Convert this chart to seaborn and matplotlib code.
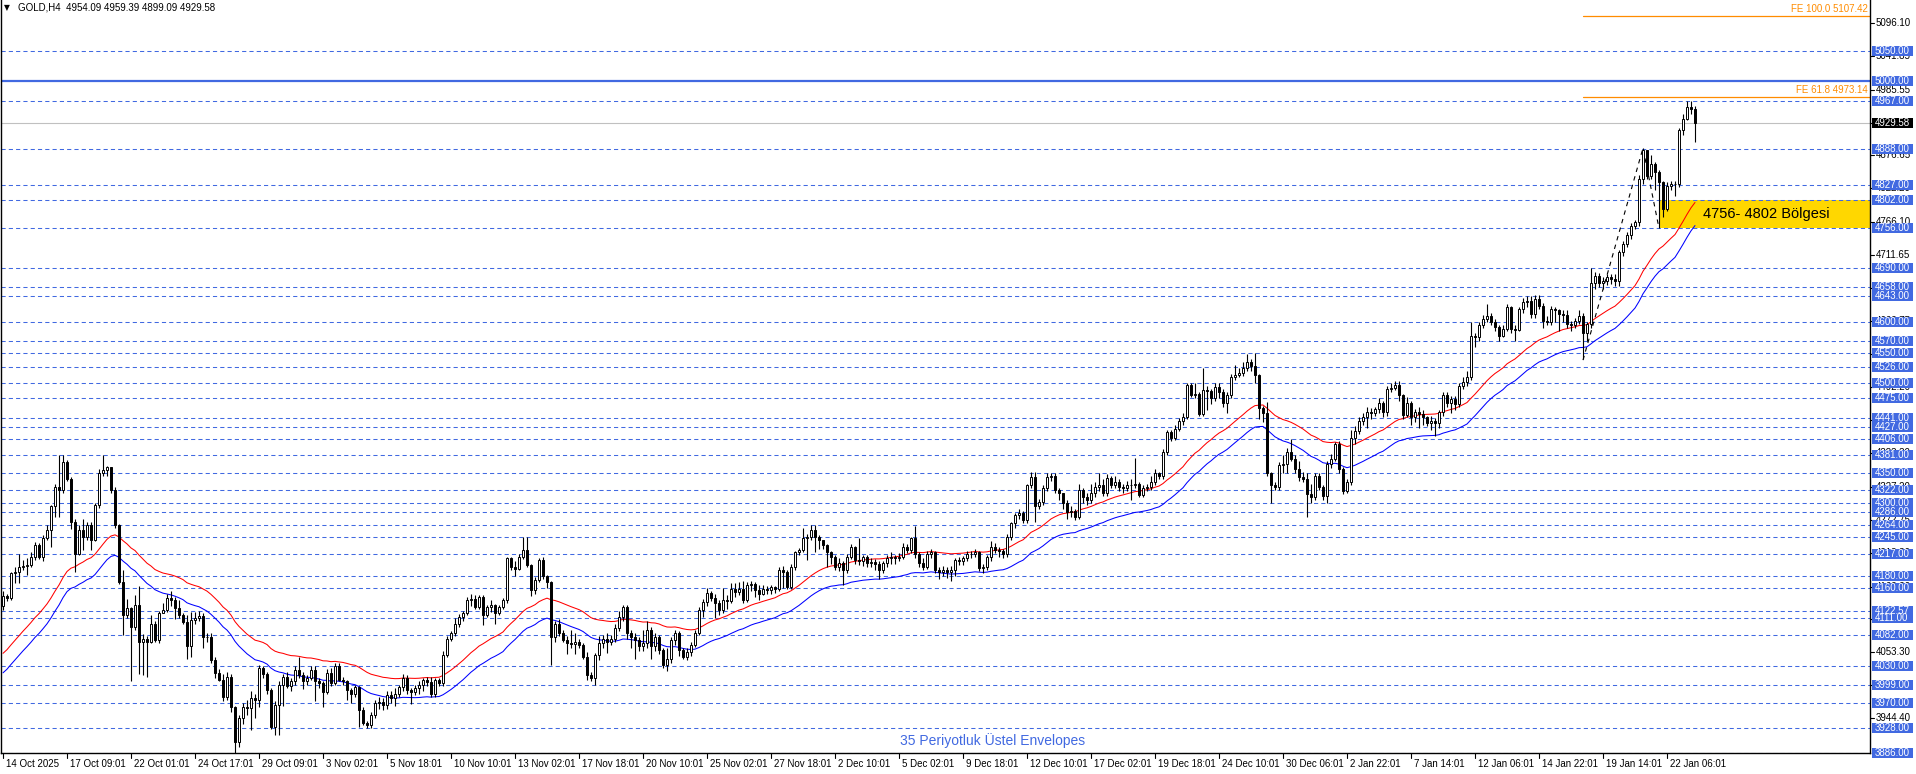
import numpy as np
import pandas as pd
import matplotlib
matplotlib.use("Agg")
import matplotlib.pyplot as plt
import matplotlib.transforms as mtransforms
from matplotlib.patches import Rectangle
from matplotlib.lines import Line2D
import seaborn as sns

# ---------------- data (GOLD, H4) ----------------
first_open = 4130.0
closes = [
    4147, 4144, 4184, 4186, 4195, 4197, 4198, 4212, 4231, 4212,
    4242, 4256, 4295, 4328, 4322, 4369, 4341, 4270, 4217, 4256,
    4245, 4264, 4240, 4297, 4350, 4356, 4360, 4322, 4264, 4170,
    4115, 4126, 4096, 4132, 4071, 4076, 4071, 4101, 4074, 4118,
    4123, 4143, 4140, 4126, 4115, 4104, 4063, 4107, 4110, 4114,
    4079, 4078, 4041, 4019, 4008, 3980, 4013, 3963, 3905, 3944,
    3963, 3961, 3977, 3974, 4027, 4018, 3991, 3930, 3966, 3999,
    4013, 3997, 4005, 4024, 4016, 4005, 4010, 4024, 4005, 4003,
    3988, 4019, 4002, 4030, 4007, 4005, 3991, 3985, 3996, 3958,
    3936, 3933, 3949, 3969, 3971, 3966, 3983, 3977, 3985, 3996,
    4010, 3991, 3988, 3994, 3999, 4007, 4004, 3985, 4007, 4002,
    4049, 4076, 4085, 4100, 4112, 4118, 4140, 4142, 4129, 4145,
    4115, 4129, 4132, 4118, 4129, 4140, 4209, 4195, 4192, 4212,
    4223, 4198, 4157, 4173, 4206, 4179, 4170, 4079, 4101, 4085,
    4074, 4068, 4067, 4070, 4065, 4046, 4016, 4010, 4049, 4068,
    4076, 4071, 4076, 4093, 4112, 4129, 4085, 4079, 4074, 4063,
    4068, 4090, 4063, 4079, 4057, 4032, 4043, 4074, 4085, 4057,
    4046, 4054, 4065, 4085, 4123, 4137, 4151, 4143, 4135, 4123,
    4140, 4139, 4159, 4154, 4159, 4140, 4165, 4167, 4157, 4150,
    4159, 4157, 4161, 4158, 4190, 4187, 4162, 4195, 4220, 4223,
    4242, 4245, 4256, 4245, 4239, 4231, 4220, 4212, 4195, 4201,
    4190, 4212, 4228, 4206, 4204, 4212, 4201, 4203, 4200, 4190,
    4201, 4209, 4212, 4209, 4212, 4228, 4223, 4242, 4217, 4201,
    4195, 4217, 4219, 4190, 4187, 4190, 4186, 4190, 4206, 4205,
    4209, 4217, 4216, 4220, 4193, 4195, 4212, 4228, 4223, 4221,
    4217, 4245, 4267, 4281, 4284, 4273, 4330, 4344, 4295, 4303,
    4325, 4344, 4346, 4322, 4317, 4300, 4286, 4287, 4278, 4322,
    4311, 4305, 4317, 4328, 4331, 4317, 4342, 4331, 4336, 4328,
    4325, 4331, 4330, 4333, 4314, 4325, 4328, 4336, 4350, 4345,
    4386, 4419, 4408, 4424, 4436, 4444, 4496, 4480, 4482, 4449,
    4488, 4487, 4474, 4493, 4485, 4466, 4480, 4510, 4513, 4516,
    4524, 4535, 4527, 4513, 4458, 4450, 4350, 4331, 4328, 4364,
    4366, 4386, 4374, 4357, 4343, 4340, 4315, 4310, 4346, 4327,
    4313, 4365, 4374, 4398, 4357, 4321, 4335, 4409, 4420, 4437,
    4443, 4451, 4450, 4456, 4467, 4451, 4490, 4492, 4496, 4479,
    4446, 4467, 4443, 4451, 4449, 4443, 4434, 4437, 4434, 4451,
    4479, 4467, 4473, 4465, 4495, 4501, 4509, 4578, 4576, 4595,
    4606, 4611, 4600, 4592, 4578, 4589, 4625, 4589, 4587, 4622,
    4633, 4636, 4614, 4639, 4628, 4603, 4600, 4622, 4620, 4614,
    4612, 4597, 4596, 4603, 4611, 4583, 4597, 4666, 4677, 4666,
    4669, 4675, 4672, 4669, 4716, 4730, 4744, 4760, 4766, 4838,
    4885, 4843, 4862, 4849, 4832, 4788, 4826, 4829, 4830, 4918,
    4937, 4957, 4954.09, 4929.58,
]
highs = [
    4155, 4150, 4186, 4195, 4217, 4207, 4209, 4220, 4236, 4234,
    4248, 4265, 4297, 4333, 4381, 4381, 4372, 4343, 4274, 4264,
    4275, 4270, 4270, 4300, 4357, 4381, 4362, 4360, 4327, 4266,
    4190, 4141, 4128, 4148, 4163, 4083, 4080, 4115, 4105, 4122,
    4135, 4150, 4155, 4145, 4140, 4118, 4115, 4120, 4120, 4122,
    4118, 4085, 4085, 4045, 4025, 4017, 4020, 4018, 3965, 3950,
    3970, 3975, 3990, 3985, 4032, 4030, 4020, 3995, 3972, 4005,
    4017, 4020, 4010, 4030, 4046, 4020, 4015, 4030, 4030, 4010,
    4005, 4025, 4027, 4035, 4035, 4012, 4008, 3995, 4000, 3998,
    3962, 3940, 3955, 3975, 3980, 3978, 3990, 3990, 3995, 4000,
    4018, 4015, 3995, 4000, 4005, 4010, 4012, 4012, 4010, 4010,
    4055, 4080, 4088, 4110, 4116, 4122, 4145, 4150, 4148, 4148,
    4148, 4132, 4140, 4134, 4132, 4143, 4212, 4212, 4205, 4216,
    4245, 4245, 4200, 4178, 4210, 4211, 4181, 4172, 4106, 4108,
    4090, 4080, 4090, 4085, 4075, 4068, 4054, 4020, 4052, 4080,
    4082, 4085, 4082, 4100, 4122, 4132, 4132, 4090, 4086, 4078,
    4090, 4106, 4095, 4085, 4082, 4060, 4060, 4078, 4090, 4088,
    4060, 4060, 4070, 4090, 4128, 4142, 4160, 4155, 4150, 4140,
    4160, 4148, 4168, 4168, 4170, 4172, 4170, 4172, 4170, 4165,
    4165, 4163, 4165, 4164, 4195, 4197, 4190, 4200, 4222, 4227,
    4260, 4250, 4265, 4265, 4247, 4240, 4232, 4222, 4215, 4210,
    4205, 4216, 4232, 4230, 4242, 4215, 4215, 4210, 4208, 4205,
    4205, 4215, 4220, 4215, 4218, 4235, 4232, 4245, 4262, 4220,
    4210, 4222, 4225, 4222, 4195, 4196, 4194, 4196, 4210, 4212,
    4213, 4222, 4222, 4225, 4222, 4200, 4215, 4237, 4235, 4228,
    4225, 4250, 4270, 4285, 4290, 4288, 4333, 4352, 4352, 4308,
    4330, 4350, 4350, 4350, 4325, 4318, 4305, 4296, 4290, 4333,
    4325, 4318, 4333, 4335, 4350, 4340, 4348, 4345, 4345, 4340,
    4333, 4338, 4340, 4375, 4336, 4330, 4333, 4345, 4357, 4352,
    4390, 4422, 4422, 4430, 4442, 4450, 4500, 4500, 4500, 4485,
    4525, 4495, 4490, 4500, 4500, 4490, 4485, 4515, 4530, 4525,
    4535, 4548, 4540, 4550, 4515, 4462, 4468, 4352, 4335, 4368,
    4380, 4392, 4406, 4380, 4370, 4352, 4350, 4332, 4350, 4350,
    4330, 4370, 4382, 4402, 4403, 4360, 4340, 4422, 4428, 4443,
    4450, 4460, 4458, 4460, 4475, 4470, 4495, 4500, 4503, 4503,
    4481, 4476, 4470, 4457, 4460, 4455, 4445, 4445, 4442, 4455,
    4485, 4484, 4478, 4478, 4500, 4510, 4520, 4600, 4583, 4600,
    4612, 4630, 4615, 4605, 4595, 4595, 4630, 4628, 4595, 4625,
    4640, 4643, 4643, 4645, 4645, 4632, 4610, 4627, 4625, 4623,
    4620, 4620, 4603, 4608, 4620, 4615, 4600, 4690, 4683, 4682,
    4675, 4680, 4680, 4680, 4720, 4735, 4750, 4765, 4770, 4845,
    4889, 4885, 4878, 4865, 4853, 4835, 4832, 4835, 4835, 4922,
    4945, 4967, 4967, 4959.39,
]
lows = [
    4124, 4138, 4140, 4168, 4168, 4190, 4181, 4195, 4207, 4208,
    4205, 4240, 4228, 4278, 4278, 4318, 4338, 4258, 4187, 4215,
    4223, 4240, 4223, 4237, 4292, 4346, 4346, 4318, 4260, 4167,
    4082, 4110, 4005, 4090, 4018, 4016, 4013, 4068, 4070, 4068,
    4118, 4120, 4130, 4108, 4110, 4100, 4043, 4045, 4100, 4105,
    4060, 4070, 4035, 4010, 4005, 3972, 3975, 3955, 3887, 3897,
    3935, 3950, 3925, 3945, 3963, 4010, 3985, 3927, 3917, 3916,
    3965, 3995, 3990, 4000, 4010, 3993, 4000, 4008, 3972, 3995,
    3963, 3985, 3998, 4000, 4005, 4000, 3975, 3970, 3980, 3930,
    3933, 3928, 3928, 3945, 3960, 3958, 3960, 3970, 3965, 3980,
    3990, 3985, 3968, 3982, 3985, 3990, 3998, 3980, 3980, 3998,
    3998, 4045, 4072, 4080, 4095, 4106, 4115, 4130, 4125, 4125,
    4099, 4112, 4120, 4100, 4115, 4125, 4135, 4190, 4180, 4189,
    4208, 4195, 4146, 4150, 4170, 4175, 4160, 4032, 4070, 4080,
    4070, 4050, 4060, 4050, 4060, 4043, 4008, 4005, 4000, 4040,
    4060, 4052, 4065, 4070, 4088, 4105, 4075, 4060, 4042, 4055,
    4055, 4060, 4043, 4055, 4050, 4028, 4022, 4035, 4065, 4048,
    4043, 4040, 4048, 4062, 4082, 4112, 4130, 4138, 4110, 4115,
    4118, 4125, 4135, 4145, 4148, 4135, 4136, 4155, 4145, 4140,
    4148, 4150, 4150, 4152, 4155, 4160, 4158, 4158, 4190, 4215,
    4220, 4206, 4240, 4220, 4225, 4225, 4195, 4200, 4190, 4188,
    4165, 4185, 4208, 4200, 4198, 4197, 4195, 4195, 4190, 4175,
    4185, 4195, 4200, 4200, 4205, 4208, 4218, 4218, 4210, 4195,
    4190, 4192, 4210, 4185, 4175, 4180, 4176, 4172, 4180, 4198,
    4198, 4205, 4210, 4212, 4188, 4185, 4190, 4205, 4218, 4212,
    4210, 4212, 4240, 4260, 4275, 4268, 4268, 4325, 4270, 4290,
    4298, 4320, 4338, 4318, 4305, 4290, 4275, 4278, 4272, 4275,
    4300, 4298, 4300, 4310, 4320, 4312, 4312, 4325, 4325, 4320,
    4318, 4320, 4305, 4325, 4310, 4310, 4320, 4322, 4330, 4340,
    4340, 4380, 4404, 4405, 4420, 4430, 4440, 4476, 4475, 4445,
    4445, 4455, 4465, 4470, 4475, 4460, 4450, 4475, 4505, 4510,
    4512, 4520, 4520, 4500, 4440, 4435, 4345, 4300, 4322, 4322,
    4350, 4350, 4370, 4350, 4338, 4335, 4277, 4300, 4305, 4322,
    4305, 4300, 4358, 4370, 4350, 4316, 4318, 4330, 4398, 4415,
    4430, 4425, 4440, 4445, 4450, 4443, 4445, 4485, 4488, 4470,
    4440, 4443, 4430, 4435, 4425, 4430, 4428, 4422, 4412, 4425,
    4445, 4460, 4450, 4455, 4460, 4490, 4495, 4505, 4560, 4570,
    4590, 4600, 4595, 4585, 4570, 4575, 4585, 4582, 4570, 4585,
    4615, 4625, 4608, 4608, 4622, 4590, 4595, 4596, 4600, 4585,
    4600, 4590, 4585, 4590, 4598, 4539, 4570, 4590, 4655, 4658,
    4656, 4662, 4663, 4660, 4660, 4710, 4725, 4738, 4755, 4760,
    4830, 4838, 4838, 4820, 4756, 4775, 4785, 4820, 4810, 4825,
    4910, 4935, 4946, 4899.09,
]
ema_seed = 4035.5          # EMA(35) value on the first visible bar
ema_period = 35
envelope_dev = 0.004        # +/- 0.4 %

levels = [5050, 4967, 4888, 4827, 4802, 4756, 4690, 4658, 4643, 4600, 4570,
          4550, 4526, 4500, 4475, 4441, 4427, 4406, 4381, 4350, 4322, 4300,
          4286, 4264, 4245, 4217, 4180, 4160, 4122.57, 4111, 4082, 4030,
          3999, 3970, 3928, 3886]
main_level = 5000
current_price = 4929.58
axis_ticks = [5096.10, 5041.85, 4985.55, 4931.10, 4876.65, 4822.20, 4766.10,
              4711.65, 4657.20, 4602.75, 4548.30, 4492.20, 4437.75, 4383.30,
              4327.20, 4272.75, 4218.30, 4162.20, 4107.75, 4053.30, 3998.85,
              3944.40]
time_labels = ["14 Oct 2025", "17 Oct 09:01", "22 Oct 01:01", "24 Oct 17:01",
               "29 Oct 09:01", "3 Nov 02:01", "5 Nov 18:01", "10 Nov 10:01",
               "13 Nov 02:01", "17 Nov 18:01", "20 Nov 10:01", "25 Nov 02:01",
               "27 Nov 18:01", "2 Dec 10:01", "5 Dec 02:01", "9 Dec 18:01",
               "12 Dec 10:01", "17 Dec 02:01", "19 Dec 18:01", "24 Dec 10:01",
               "30 Dec 06:01", "2 Jan 22:01", "7 Jan 14:01", "12 Jan 06:01",
               "14 Jan 22:01", "19 Jan 14:01", "22 Jan 06:01"]
time_label_bars = list(range(0, 417, 16))
fe_levels = [("FE 100.0", 5107.42), ("FE 61.8", 4973.14)]
fe_points_bar = [395, 410, 414]
fe_points_price = [4537.5, 4889.0, 4756.0]
zone_low, zone_high = 4756, 4802
zone_text = "4756- 4802 Bölgesi"
header = "GOLD,H4  4954.09 4959.39 4899.09 4929.58"
indicator_text = "35 Periyotluk Üstel Envelopes"

# ---------------- derived ----------------
n = len(closes)
bars = np.arange(n)
c = np.array(closes, float)
o = np.concatenate([[first_open], c[:-1]])
h = np.array(highs, float)
l = np.array(lows, float)

alpha = 2.0 / (ema_period + 1)
ema = np.empty(n)
ema[0] = ema_seed
for k in range(1, n):
    ema[k] = ema[k - 1] + alpha * (c[k] - ema[k - 1])
env = pd.DataFrame({"bar": bars, "upper": ema * (1 + envelope_dev),
                    "lower": ema * (1 - envelope_dev)})

# ---------------- figure ----------------
sns.set_style("white")
plt.rcParams["font.family"] = ["Liberation Sans", "DejaVu Sans"]

W, H = 1916, 774
fig = plt.figure(figsize=(W / 100, H / 100), dpi=100)
fig.patch.set_facecolor("white")
AX_L, AX_R, AX_T, AX_B = 1, 1870, 0, 753
ax = fig.add_axes([AX_L / W, (H - AX_B) / H, (AX_R - AX_L) / W, (AX_B - AX_T) / H])
ax.set_facecolor("white")

px_per_bar = 4.0
x0_px = 3.0
ax.set_xlim((AX_L - x0_px) / px_per_bar, (AX_R - x0_px) / px_per_bar)
px_per_price = 0.6035
ref_price, ref_px = 5000.0, 81.0
ymin = ref_price - (AX_B - ref_px) / px_per_price
ymax = ref_price + (ref_px - AX_T) / px_per_price
ax.set_ylim(ymin, ymax)

ax.set_xticks([])
ax.set_yticks([])
for s in ["left", "right", "bottom"]:
    ax.spines[s].set_color("black")
    ax.spines[s].set_linewidth(1.0)
ax.spines["top"].set_visible(False)

BLUE = "#4169E1"
ORANGE = "#FF8C00"

# zone box
ax.add_patch(Rectangle((414.25, zone_low), 500, zone_high - zone_low,
                       facecolor="#FFD700", edgecolor="none", zorder=1))
ax.text((1703 - x0_px) / px_per_bar, (zone_low + zone_high) / 2 + 1,
        zone_text, fontsize=10.5, color="black", va="center", ha="left", zorder=6)

# horizontal levels
for p in levels:
    ax.axhline(p, color=BLUE, lw=0.75, ls=(0, (4, 3)), zorder=1.5)
ax.axhline(main_level, color=BLUE, lw=1.6, zorder=1.6)
ax.axhline(current_price, color="#C0C0C0", lw=0.8, zorder=1.4)

# FE lines
for name, p in fe_levels:
    ax.plot([fe_points_bar[0], 500], [p, p], color=ORANGE, lw=0.9, zorder=2)
    ax.text((1868 - x0_px) / px_per_bar, p + 2.5 / px_per_price,
            f"{name} {p:.2f}", color=ORANGE, fontsize=7, ha="right", va="bottom", zorder=6)
ax.plot(fe_points_bar, fe_points_price, color="black", lw=0.8,
        ls=(0, (4, 4)), zorder=2.5)

# envelopes (seaborn)
sns.lineplot(data=env, x="bar", y="upper", ax=ax, color="red", linewidth=0.75,
             estimator=None, errorbar=None, zorder=3)
sns.lineplot(data=env, x="bar", y="lower", ax=ax, color="blue", linewidth=0.75,
             estimator=None, errorbar=None, zorder=3)
ax.set_xlabel("")
ax.set_ylabel("")

# candles
ax.vlines(bars, l, h, color="black", lw=0.8, zorder=4)
up = c >= o
body_bottom = np.minimum(o, c)
body_h = np.maximum(np.abs(c - o), 0.9)
ax.bar(bars[up], body_h[up], bottom=body_bottom[up], width=0.6,
       color="white", edgecolor="black", linewidth=0.7, zorder=5)
ax.bar(bars[~up], body_h[~up], bottom=body_bottom[~up], width=0.6,
       color="black", edgecolor="black", linewidth=0.7, zorder=5)

# ---------------- texts outside / overlays ----------------
blend = mtransforms.blended_transform_factory(fig.transFigure, ax.transData)
box_h = 10 / px_per_price

for p in axis_ticks:
    fig.add_artist(Line2D([AX_R / W, (AX_R + 4) / W], [p, p], transform=blend,
                          color="black", lw=0.8, zorder=2))
    fig.text(1876 / W, p, f"{p:.2f}", transform=blend, fontsize=7, color="black",
             va="center", ha="left", zorder=2)

for p in levels + [main_level]:
    fig.add_artist(Rectangle((1872 / W, p - box_h / 2), 41 / W, box_h, transform=blend,
                             facecolor=BLUE, edgecolor="none", zorder=3))
    fig.text(1875 / W, p, f"{p:.2f}", transform=blend, fontsize=7, color="white",
             va="center", ha="left", zorder=4)

fig.add_artist(Rectangle((1872 / W, current_price - box_h / 2), 41 / W, box_h,
                         transform=blend, facecolor="black", edgecolor="none", zorder=3))
fig.text(1875 / W, current_price, f"{current_price:.2f}", transform=blend, fontsize=7,
         color="white", va="center", ha="left", zorder=4)

# time axis
for b, lab in zip(time_label_bars, time_labels):
    xp = x0_px + px_per_bar * b
    fig.add_artist(Line2D([xp / W, xp / W], [(H - AX_B) / H, (H - AX_B - 5) / H],
                          transform=fig.transFigure, color="black", lw=0.8))
    fig.text((xp + 3) / W, (H - 764) / H, lab, fontsize=7, color="black",
             va="center", ha="left")

# header & indicator caption
fig.text(4 / W, (H - 8) / H, "▼", fontsize=5.5, color="black", va="center", ha="left",
         family=["DejaVu Sans"])
fig.text(18 / W, (H - 8) / H, header, fontsize=7, color="black", va="center", ha="left")
fig.text(900 / W, (H - 741) / H, indicator_text, fontsize=10, color=BLUE,
         va="center", ha="left")

fig.savefig("out.png", dpi=100, facecolor="white")
